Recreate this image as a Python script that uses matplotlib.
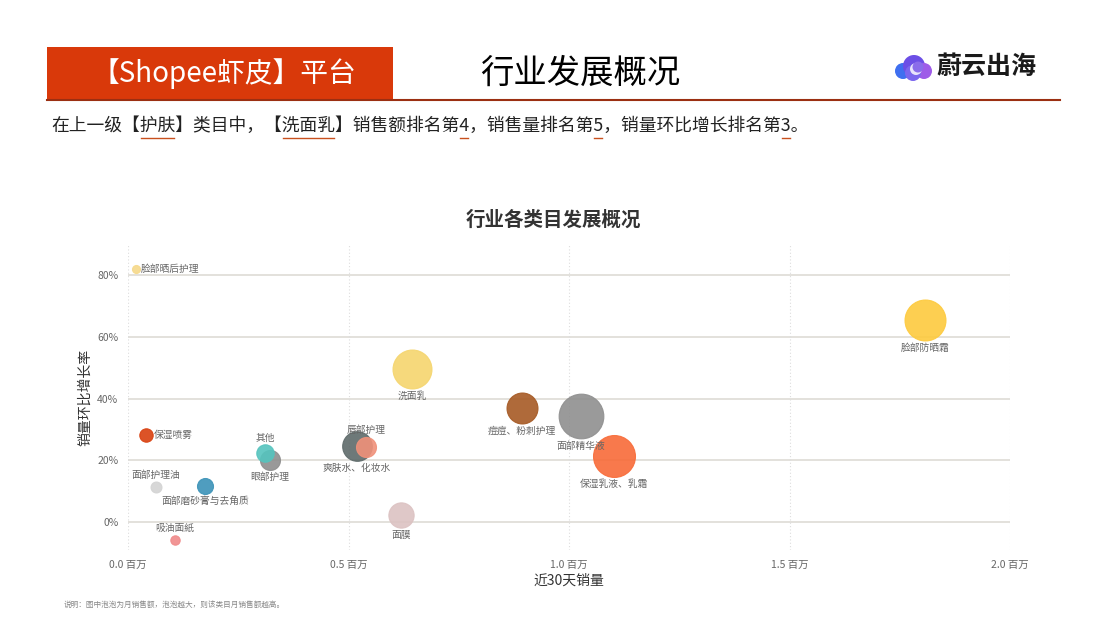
#!/usr/bin/env python3
import numpy as np
import matplotlib
matplotlib.use("Agg")
import matplotlib.pyplot as plt
from matplotlib.patches import Rectangle, Circle
from matplotlib.lines import Line2D
from matplotlib.ticker import FuncFormatter

plt.rcParams['font.family'] = ['Noto Sans CJK SC', 'DejaVu Sans']

# ---------------- data ----------------
categories = ['脸部晒后护理', '保湿喷雾', '面部护理油', '吸油面紙', '面部磨砂膏与去角质',
              '眼部护理', '其他', '爽肤水、化妆水', '唇部护理', '洗面乳', '面膜',
              '痘痘、粉刺护理', '面部精华液', '保湿乳液、乳霜', '脸部防晒霜']
sales_30d = [0.018, 0.041, 0.063, 0.107, 0.175,
             0.322, 0.311, 0.519, 0.540, 0.644, 0.619,
             0.893, 1.027, 1.102, 1.807]          # 百万
growth = [0.819, 0.282, 0.113, -0.058, 0.117,
          0.201, 0.223, 0.246, 0.243, 0.496, 0.023,
          0.369, 0.343, 0.214, 0.654]
month_sales = [1.6, 4.5, 3.0, 2.2, 6.4,
               10.0, 7.6, 22.0, 10.0, 38.0, 16.0,
               24.0, 50.0, 44.0, 42.0]           # relative bubble size
colors = ['#F6D98A', '#D9400F', '#D3D3D3', '#F08A8A', '#3C93B8',
          '#8E8E8E', '#55C4BE', '#5E6A6A', '#F0917A', '#F5D56E', '#DCC2C2',
          '#A65A24', '#8F8F8F', '#F86B38', '#FDCA3E']
label_pos = ['right', 'right', 'above', 'above', 'below',
             'below', 'above', 'below', 'above', 'below', 'below',
             'below', 'below', 'below', 'below']

x_ticks = [0.0, 0.5, 1.0, 1.5, 2.0]
y_ticks = [0.0, 0.2, 0.4, 0.6, 0.8]

W, H = 1107, 640


def fx(x):
    return x / W


def fy(y):
    return 1 - y / H


# ============================================================================
fig = plt.figure(figsize=(W / 100, H / 100), dpi=100)
fig.patch.set_facecolor('white')

# ---- header ----
fig.add_artist(Rectangle((fx(47), fy(99)), fx(393) - fx(47), fy(47) - fy(99),
                         transform=fig.transFigure, facecolor='#D9390A', edgecolor='none'))
fig.add_artist(Line2D([fx(47), fx(1060)], [fy(99.5), fy(99.5)], transform=fig.transFigure,
                      color='#9B2F12', lw=1.5))
fig.text(fx(224), fy(74), '【Shopee虾皮】平台', color='white', fontsize=20,
         ha='center', va='center')
fig.text(fx(580), fy(73), '行业发展概况', color='black', fontsize=24,
         ha='center', va='center')

# logo
lax = fig.add_axes([fx(893), fy(82), fx(934) - fx(893), fy(52) - fy(82)])
lax.set_xlim(0, 41)
lax.set_ylim(0, 30)
lax.set_aspect('equal')
lax.axis('off')
for (cx, cy, r, c) in [(10, 11, 8, '#3F6FF0'), (21, 16, 11, '#6C4FE6'),
                       (31, 11, 8, '#9E5CE8'), (20, 9, 8, '#7B66EE')]:
    lax.add_patch(Circle((cx, cy), r, color=c, lw=0))
lax.add_patch(Circle((23, 13), 6, color='#E9E4FB', lw=0))
lax.add_patch(Circle((25, 15), 5.5, color='#8A6CEA', lw=0))
fig.text(fx(936), fy(67), '蔚云出海', color='#1A1A1A', fontsize=18, fontweight='bold',
         ha='left', va='center')

# ---- subtitle with underlines ----
sub_fs = 12.8
sub_x, sub_y = fx(51), fy(126)
parts = ['在上一级【', '护肤', '】类目中，【', '洗面乳', '】销售额排名第', '4',
         '，销售量排名第', '5', '，销量环比增长排名第', '3', '。']
full = ''.join(parts)
fig.text(sub_x, sub_y, full, fontsize=sub_fs, color='#222222', ha='left', va='center')
fig.canvas.draw()
renderer = fig.canvas.get_renderer()
prefix = ''
for i, p in enumerate(parts):
    if i % 2 == 1:
        t0 = fig.text(sub_x, sub_y, prefix, fontsize=sub_fs, va='center')
        t1 = fig.text(sub_x, sub_y, prefix + p, fontsize=sub_fs, va='center')
        x0 = t0.get_window_extent(renderer).x1
        x1 = t1.get_window_extent(renderer).x1
        t0.remove()
        t1.remove()
        fig.add_artist(Line2D([x0 / W + 0.001, x1 / W - 0.001], [fy(137.5), fy(137.5)],
                              transform=fig.transFigure, color='#C8501E', lw=1.0))
    prefix += p

# ---- chart ----
fig.text(fx(553), fy(220), '行业各类目发展概况', fontsize=14, fontweight='bold',
         color='#333333', ha='center', va='center')

ax = fig.add_axes([fx(128), fy(550), fx(1010) - fx(128), fy(244) - fy(550)])
ax.set_xlim(0, 2.0)
ax.set_ylim(-0.09, 0.90)
for s in ax.spines.values():
    s.set_visible(False)

for yt in y_ticks:
    ax.axhline(yt, color='#DEDBD6', lw=1.2, zorder=0)
for xt in x_ticks:
    ax.axvline(xt, color='#DDDDDD', lw=0.8, ls=(0, (1, 2)), zorder=0)

ax.set_xticks(x_ticks)
ax.set_yticks(y_ticks)
ax.xaxis.set_major_formatter(FuncFormatter(lambda v, p: f'{v:.1f} 百万'))
ax.yaxis.set_major_formatter(FuncFormatter(lambda v, p: f'{v * 100:.0f}%'))
ax.tick_params(length=0, labelsize=7.5, labelcolor='#666666')
ax.tick_params(axis='x', pad=7)
ax.tick_params(axis='y', pad=7)

ax.set_xlabel('近30天销量', fontsize=10, color='#333333', labelpad=3)
ax.set_ylabel('销量环比增长率', fontsize=10, color='#333333')
ax.yaxis.set_label_coords(-0.040, 0.5)

sizes = [20.7 * m for m in month_sales]
for i in range(len(categories)):
    ax.scatter(sales_30d[i], growth[i], s=sizes[i], color=colors[i], alpha=0.9,
               edgecolors=colors[i], linewidths=0.8, zorder=3 + i * 0.01)
    r_pt = np.sqrt(sizes[i]) / 2
    if label_pos[i] == 'below':
        off, ha, va = (0, -(r_pt + 1.5)), 'center', 'top'
    elif label_pos[i] == 'above':
        off, ha, va = (0, r_pt + 1.5), 'center', 'bottom'
    else:
        off, ha, va = (r_pt + 0.5, 0), 'left', 'center'
    ax.annotate(categories[i], (sales_30d[i], growth[i]), xytext=off,
                textcoords='offset points', ha=ha, va=va, fontsize=7,
                color='#666666', zorder=10)

fig.text(fx(64), fy(605), '说明：图中泡泡为月销售额，泡泡越大，则该类目月销售额越高。',
         fontsize=5.5, color='#888888', ha='left', va='center')

fig.savefig('out.png', dpi=100)
